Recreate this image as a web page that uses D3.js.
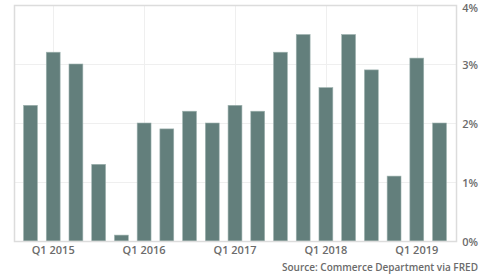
<!DOCTYPE html>
<html>
<head>
<meta charset="utf-8">
<style>
  body { margin: 0; background: #fff; }
  svg text { font-family: "Open Sans", sans-serif; fill: #6b6b6b; }
</style>
</head>
<body>
<svg id="chart" width="481" height="274"></svg>
<script src="https://d3js.org/d3.v7.min.js"></script>
<script>
// quarterly growth, Q4 2014 .. Q2 2019
var quarters = ["Q4 2014","Q1 2015","Q2 2015","Q3 2015","Q4 2015",
                "Q1 2016","Q2 2016","Q3 2016","Q4 2016",
                "Q1 2017","Q2 2017","Q3 2017","Q4 2017",
                "Q1 2018","Q2 2018","Q3 2018","Q4 2018",
                "Q1 2019","Q2 2019"];
var growth = [2.3, 3.2, 3.0, 1.3, 0.1, 2.0, 1.9, 2.2, 2.0, 2.3, 2.2, 3.2, 3.5, 2.6, 3.5, 2.9, 1.1, 3.1, 2.0];
var yTicks = [0, 1, 2, 3, 4];
var xTickLabels = ["Q1 2015", "Q1 2016", "Q1 2017", "Q1 2018", "Q1 2019"];
var source = "Source: Commerce Department via FRED";

var svg = d3.select("#chart"),
    margin = {top: 5, right: 25, bottom: 33, left: 14},
    width = +svg.attr("width") - margin.left - margin.right,
    height = +svg.attr("height") - margin.top - margin.bottom,
    g = svg.append("g").attr("transform", "translate(" + margin.left + "," + margin.top + ")");

var x = d3.scaleBand()
    .domain(quarters)
    .range([0, width])
    .paddingInner(0.39)
    .paddingOuter(0.42);

var y = d3.scaleLinear()
    .domain([0, 4])
    .range([height, 0]);

// horizontal grid
g.selectAll(".hgrid")
  .data(yTicks)
  .enter().append("line")
    .attr("x1", 0).attr("x2", width)
    .attr("y1", function(d) { return Math.round(y(d)) + 0.5; })
    .attr("y2", function(d) { return Math.round(y(d)) + 0.5; })
    .attr("stroke", "#efefef");

// vertical grid at Q1 of each year
g.selectAll(".vgrid")
  .data(xTickLabels)
  .enter().append("line")
    .attr("x1", function(d) { return Math.round(x(d) + x.bandwidth() / 2) + 0.5; })
    .attr("x2", function(d) { return Math.round(x(d) + x.bandwidth() / 2) + 0.5; })
    .attr("y1", 0).attr("y2", height)
    .attr("stroke", "#efefef");

// bars
g.selectAll(".bar")
  .data(growth)
  .enter().append("rect")
    .attr("x", function(d, i) { return x(quarters[i]); })
    .attr("width", x.bandwidth())
    .attr("y", function(d) { return y(d); })
    .attr("height", function(d) { return height - y(d); })
    .attr("fill", "#637f7c")
    .attr("stroke", "#9fb3b0")
    .attr("stroke-width", 0.6);

// plot frame
g.append("rect")
    .attr("x", 0.5).attr("y", 0.5)
    .attr("width", width).attr("height", height)
    .attr("fill", "none")
    .attr("stroke", "#dcdcdc")
    .attr("stroke-width", 1.5);

// x axis labels
g.selectAll(".xlab")
  .data(xTickLabels)
  .enter().append("text")
    .attr("x", function(d) { return x(d) + x.bandwidth() / 2; })
    .attr("y", height + 13)
    .attr("text-anchor", "middle")
    .attr("font-size", 11)
    .attr("font-weight", 600)
    .text(function(d) { return d; });

// y axis labels on the right (top one nudged down so it stays inside)
g.selectAll(".ylab")
  .data(yTicks)
  .enter().append("text")
    .attr("x", width + 22)
    .attr("y", function(d) { return Math.max(y(d) + 1.5, 3.5); })
    .attr("dy", "0.35em")
    .attr("text-anchor", "end")
    .attr("font-size", 11)
    .attr("font-weight", 600)
    .text(function(d) { return d + "%"; });

svg.append("text")
    .attr("x", 478)
    .attr("y", 271)
    .attr("text-anchor", "end")
    .attr("font-size", 10)
    .attr("font-weight", 600)
    .text(source);
</script>
</body>
</html>
